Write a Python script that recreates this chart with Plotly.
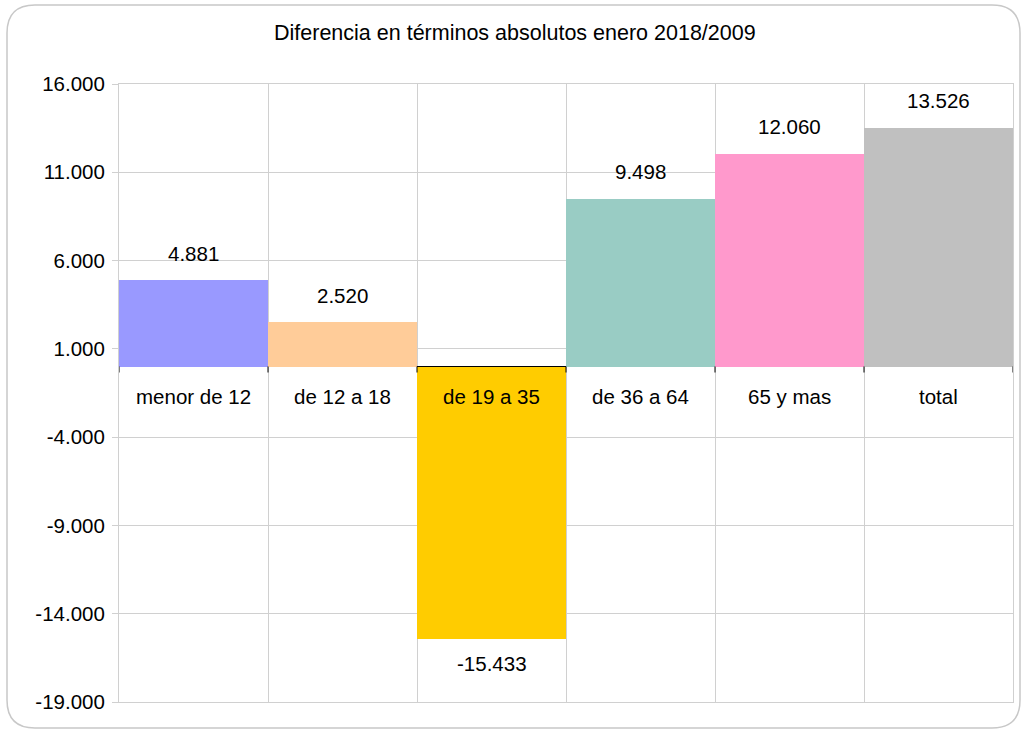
import plotly.graph_objects as go

categories = ["menor de 12", "de 12 a 18", "de 19 a 35", "de 36 a 64", "65 y mas", "total"]
values = [4881, 2520, -15433, 9498, 12060, 13526]
colors = ["#9999FF", "#FFCC99", "#FFCC00", "#99CCC4", "#FF99CC", "#C0C0C0"]
tick_vals = [16000, 11000, 6000, 1000, -4000, -9000, -14000, -19000]
title_text = "Diferencia en términos absolutos enero 2018/2009"

def fmt(v):
    return f"{v:,}".replace(",", ".")

FONT = "Liberation Sans, Arial, sans-serif"
GRID = "#d0d0d0"
FS = 20.5

W, H = 1026, 733
L, R, T, B = 119, 13, 84, 31
pw, ph = W - L - R, H - T - B

xs = list(range(len(categories)))
bounds = [i - 0.5 for i in range(len(categories) + 1)]

fig = go.Figure()
fig.add_trace(go.Bar(x=xs, y=values, marker=dict(color=colors, line=dict(width=0)),
                     width=1.0, hoverinfo="skip"))

annotations = []
for x, v in zip(xs, values):
    annotations.append(dict(x=x, y=v, text=fmt(v), showarrow=False,
                            yshift=27 if v >= 0 else -24, yanchor="middle",
                            font=dict(size=FS, color="#000", family=FONT)))
for x, c in zip(xs, categories):
    annotations.append(dict(x=x, y=0, text=c, showarrow=False, yshift=-30, yanchor="middle",
                            font=dict(size=FS, color="#000", family=FONT)))
annotations.append(dict(xref="paper", yref="paper", x=(515 - L) / pw, y=(H - B - 33) / ph,
                        text=title_text, showarrow=False, xanchor="center", yanchor="middle",
                        font=dict(size=21.5, color="#000", family=FONT)))

shapes = []
for b in bounds:
    shapes.append(dict(type="line", xref="x", yref="y", ysizemode="pixel", yanchor=0,
                       x0=b, x1=b, y0=0, y1=-6, line=dict(color="#000", width=1)))

# rounded outer border (pixel -> paper coordinates)
def px(x):
    return (x - L) / pw
def py(y):
    return (H - B - y) / ph
x0, x1, y0, y1, r = 7, 1020, 5, 728, 28
path = (f"M {px(x0 + r)},{py(y0)} L {px(x1 - r)},{py(y0)} Q {px(x1)},{py(y0)} {px(x1)},{py(y0 + r)} "
        f"L {px(x1)},{py(y1 - r)} Q {px(x1)},{py(y1)} {px(x1 - r)},{py(y1)} "
        f"L {px(x0 + r)},{py(y1)} Q {px(x0)},{py(y1)} {px(x0)},{py(y1 - r)} "
        f"L {px(x0)},{py(y0 + r)} Q {px(x0)},{py(y0)} {px(x0 + r)},{py(y0)} Z")
shapes.append(dict(type="path", xref="paper", yref="paper", path=path,
                   line=dict(color="#c8c8c8", width=1.5), layer="below"))

fig.update_layout(
    width=W, height=H,
    margin=dict(l=L, r=R, t=T, b=B),
    paper_bgcolor="white", plot_bgcolor="white",
    bargap=0, showlegend=False,
    annotations=annotations, shapes=shapes,
    font=dict(family=FONT, size=FS, color="#000"),
    xaxis=dict(range=[-0.5, 5.5], tickvals=bounds, showticklabels=False, ticks="",
               showgrid=True, gridcolor=GRID, gridwidth=1, zeroline=False,
               showline=True, linecolor=GRID, mirror=True, fixedrange=True),
    yaxis=dict(range=[-19000, 16000], tickvals=tick_vals, ticktext=[fmt(v) for v in tick_vals],
               showgrid=True, gridcolor=GRID, gridwidth=1, ticks="outside", ticklen=6,
               tickcolor=GRID, tickfont=dict(size=FS, color="#000", family=FONT),
               ticklabelstandoff=3,
               zeroline=True, zerolinecolor="#000", zerolinewidth=1,
               showline=True, linecolor=GRID, mirror=True, fixedrange=True),
)

fig.write_html("out.html", config={"displayModeBar": False},
               post_script="document.body.style.margin='0';document.body.style.overflow='hidden';")
